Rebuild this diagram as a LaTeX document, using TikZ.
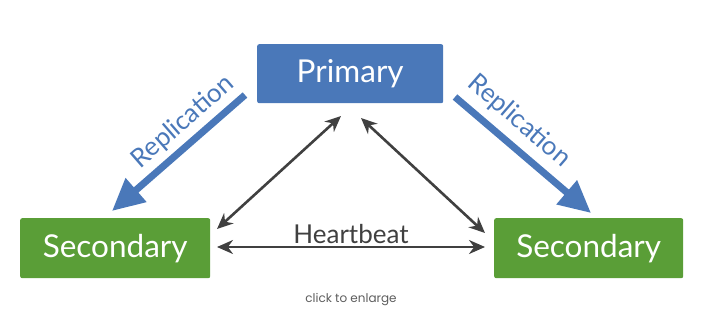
\documentclass[tikz,border=0pt]{standalone}
\usepackage{fontspec}
\setmainfont{Lato}
\newfontfamily\smallfont{Poppins}
\usetikzlibrary{arrows.meta}
\definecolor{pblue}{RGB}{74,120,185}
\definecolor{sgreen}{RGB}{90,158,55}
\definecolor{dgray}{RGB}{64,64,64}
\begin{document}
\begin{tikzpicture}[x=1pt,y=-1pt,
  box/.style={draw=none,rounded corners=2pt,inner sep=0pt,anchor=north west},
  boxtext/.style={text=white,font=\fontsize{31.5}{34}\selectfont},
  repl/.style={pblue,line width=7pt,-{Triangle[length=32pt,width=30pt]}},
  hb/.style={dgray,line width=2.6pt,{Stealth[length=16pt,width=14pt]}-{Stealth[length=16pt,width=14pt]}},
  lbl/.style={font=\fontsize{26}{29}\selectfont}
]
\useasboundingbox (0,0) rectangle (723,327);
\node[box,fill=pblue,minimum width=186pt,minimum height=59pt] (P) at (257,44) {};
\node[boxtext] (pt) at (P.center) {Primary};
\node[box,fill=sgreen,minimum width=190pt,minimum height=60pt] (L) at (20,218) {};
\node[boxtext] (lt) at (L.center) {Secondary};
\node[box,fill=sgreen,minimum width=189pt,minimum height=60pt] (R) at (494,218) {};
\node[boxtext] (rt) at (R.center) {Secondary};
\coordinate (la) at (245,95);
\coordinate (lb) at (112,211);
\coordinate (ra) at (455,97);
\coordinate (rb) at (591,213);
\draw[repl] (la) -- (lb);
\draw[repl] (ra) -- (rb);
\node[pblue,lbl,rotate=41,inner sep=0pt] (t1) at (183,122) {Replication};
\node[pblue,lbl,rotate=-41,inner sep=0pt] (t2) at (519,121) {Replication};
\coordinate (p1) at (341,116);
\coordinate (l1) at (217,229);
\coordinate (p2) at (361,118);
\coordinate (r1) at (485,233);
\coordinate (l2) at (217,247);
\coordinate (r2) at (485,247);
\draw[hb] (p1) -- (l1);
\draw[hb] (p2) -- (r1);
\draw[hb] (l2) -- (r2);
\node[dgray,lbl,inner sep=0pt] (h) at (351,234) {Heartbeat};
\node[text=dgray!85,font=\smallfont\fontsize{12}{14}\selectfont] (c) at (351,300) {click to enlarge};
\end{tikzpicture}
\end{document}
